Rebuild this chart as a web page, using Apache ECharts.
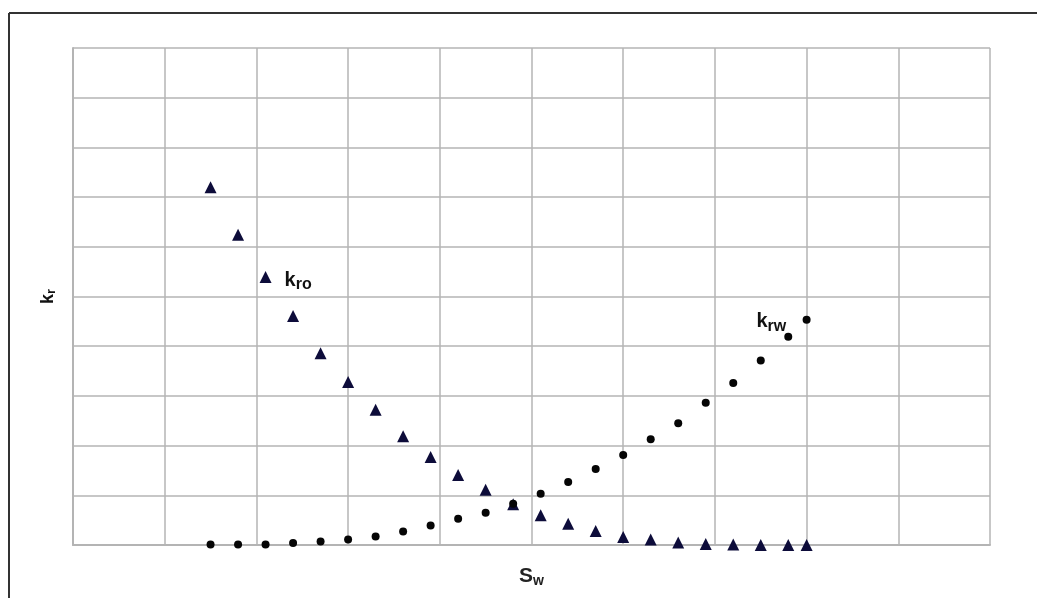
<!DOCTYPE html>
<html>
<head>
<meta charset="utf-8">
<script src="https://cdn.jsdelivr.net/npm/echarts@6/dist/echarts.min.js"></script>
<style>
html,body{margin:0;padding:0;background:#fff;}
#c{width:1037px;height:598px;}
</style>
</head>
<body>
<div id="c"></div>
<script>
const sw  = [0.15,0.18,0.21,0.24,0.27,0.30,0.33,0.36,0.39,0.42,0.45,0.48,0.51,0.54,0.57,0.60,0.63,0.66,0.69,0.72,0.75,0.78,0.80];
const kro = [0.720,0.624,0.539,0.461,0.386,0.328,0.272,0.219,0.177,0.141,0.111,0.082,0.060,0.043,0.028,0.016,0.011,0.005,0.002,0.001,0.0,0.0,0.0];
const krw = [0.001,0.001,0.001,0.004,0.007,0.011,0.017,0.027,0.039,0.053,0.065,0.083,0.103,0.127,0.153,0.181,0.213,0.245,0.286,0.326,0.371,0.419,0.453];
const xTitle = 'S';
const xSub = 'w';
const yTitle = 'k';
const ySub = 'r';
const kroLabel = ['k','ro'];
const krwLabel = ['k','rw'];
const kroLabelIdx = 2;
const krwLabelIdx = 21;

const chart = echarts.init(document.getElementById('c'));
const rich = {
  k: {fontFamily:'Liberation Sans, Arial', fontSize:20, fontWeight:'bold', color:'#111'},
  s: {fontFamily:'Liberation Sans, Arial', fontSize:16, fontWeight:'bold', color:'#111', padding:[9,0,0,0]}
};
const kroData = sw.map((x,i)=>{
  const d = {value:[x,kro[i]]};
  if(i===kroLabelIdx){ d.label={show:true, position:'right', distance:13, offset:[0,3], formatter:'{k|'+kroLabel[0]+'}{s|'+kroLabel[1]+'}', rich:rich}; }
  return d;
});
const krwData = sw.map((x,i)=>{
  const d = {value:[x,krw[i]]};
  if(i===krwLabelIdx){ d.label={show:true, position:'left', distance:0, offset:[2,-15], formatter:'{k|'+krwLabel[0]+'}{s|'+krwLabel[1]+'}', rich:rich}; }
  return d;
});
const gridColor = '#b4b4b4';
chart.setOption({
  animation:false,
  backgroundColor:'#fff',
  grid:{left:73, top:48, right:47, bottom:53, show:false, outerBoundsMode:'none', containLabel:false},
  xAxis:{
    type:'value', min:0, max:1, interval:0.1,
    axisLabel:{show:false}, axisTick:{show:false},
    axisLine:{show:true, lineStyle:{color:gridColor, width:2}},
    splitLine:{show:true, lineStyle:{color:gridColor, width:1.5}},
    name:'{k|'+xTitle+'}{s|'+xSub+'}', nameLocation:'middle', nameGap:20,
    nameTextStyle:{rich:{
      k:{fontFamily:'Liberation Sans, Arial', fontSize:21, fontWeight:'bold', color:'#222'},
      s:{fontFamily:'Liberation Sans, Arial', fontSize:14, fontWeight:'bold', color:'#222', padding:[9,0,0,0]}
    }}
  },
  yAxis:{
    type:'value', min:0, max:1, interval:0.1,
    axisLabel:{show:false}, axisTick:{show:false},
    axisLine:{show:true, lineStyle:{color:gridColor, width:2}},
    splitLine:{show:true, lineStyle:{color:gridColor, width:1.5}},
    name:'{k|'+yTitle+'}{s|'+ySub+'}', nameLocation:'middle', nameGap:15, nameRotate:90,
    nameTextStyle:{rich:{
      k:{fontFamily:'Liberation Sans, Arial', fontSize:18, fontWeight:'bold', color:'#111'},
      s:{fontFamily:'Liberation Sans, Arial', fontSize:13, fontWeight:'bold', color:'#111', padding:[7,0,0,0]}
    }}
  },
  graphic:[
    {type:'line', shape:{x1:9, y1:13, x2:1037, y2:13}, style:{stroke:'#333', lineWidth:2}},
    {type:'line', shape:{x1:9, y1:13, x2:9, y2:598}, style:{stroke:'#333', lineWidth:2}}
  ],
  series:[
    {type:'scatter', name:'kro', data:kroData, symbol:'triangle', symbolSize:[12,12],
     itemStyle:{color:'#0d0c3a', opacity:1}},
    {type:'scatter', name:'krw', data:krwData, symbol:'circle', symbolSize:8,
     itemStyle:{color:'#050505', opacity:1}}
  ]
});
</script>
</body>
</html>
